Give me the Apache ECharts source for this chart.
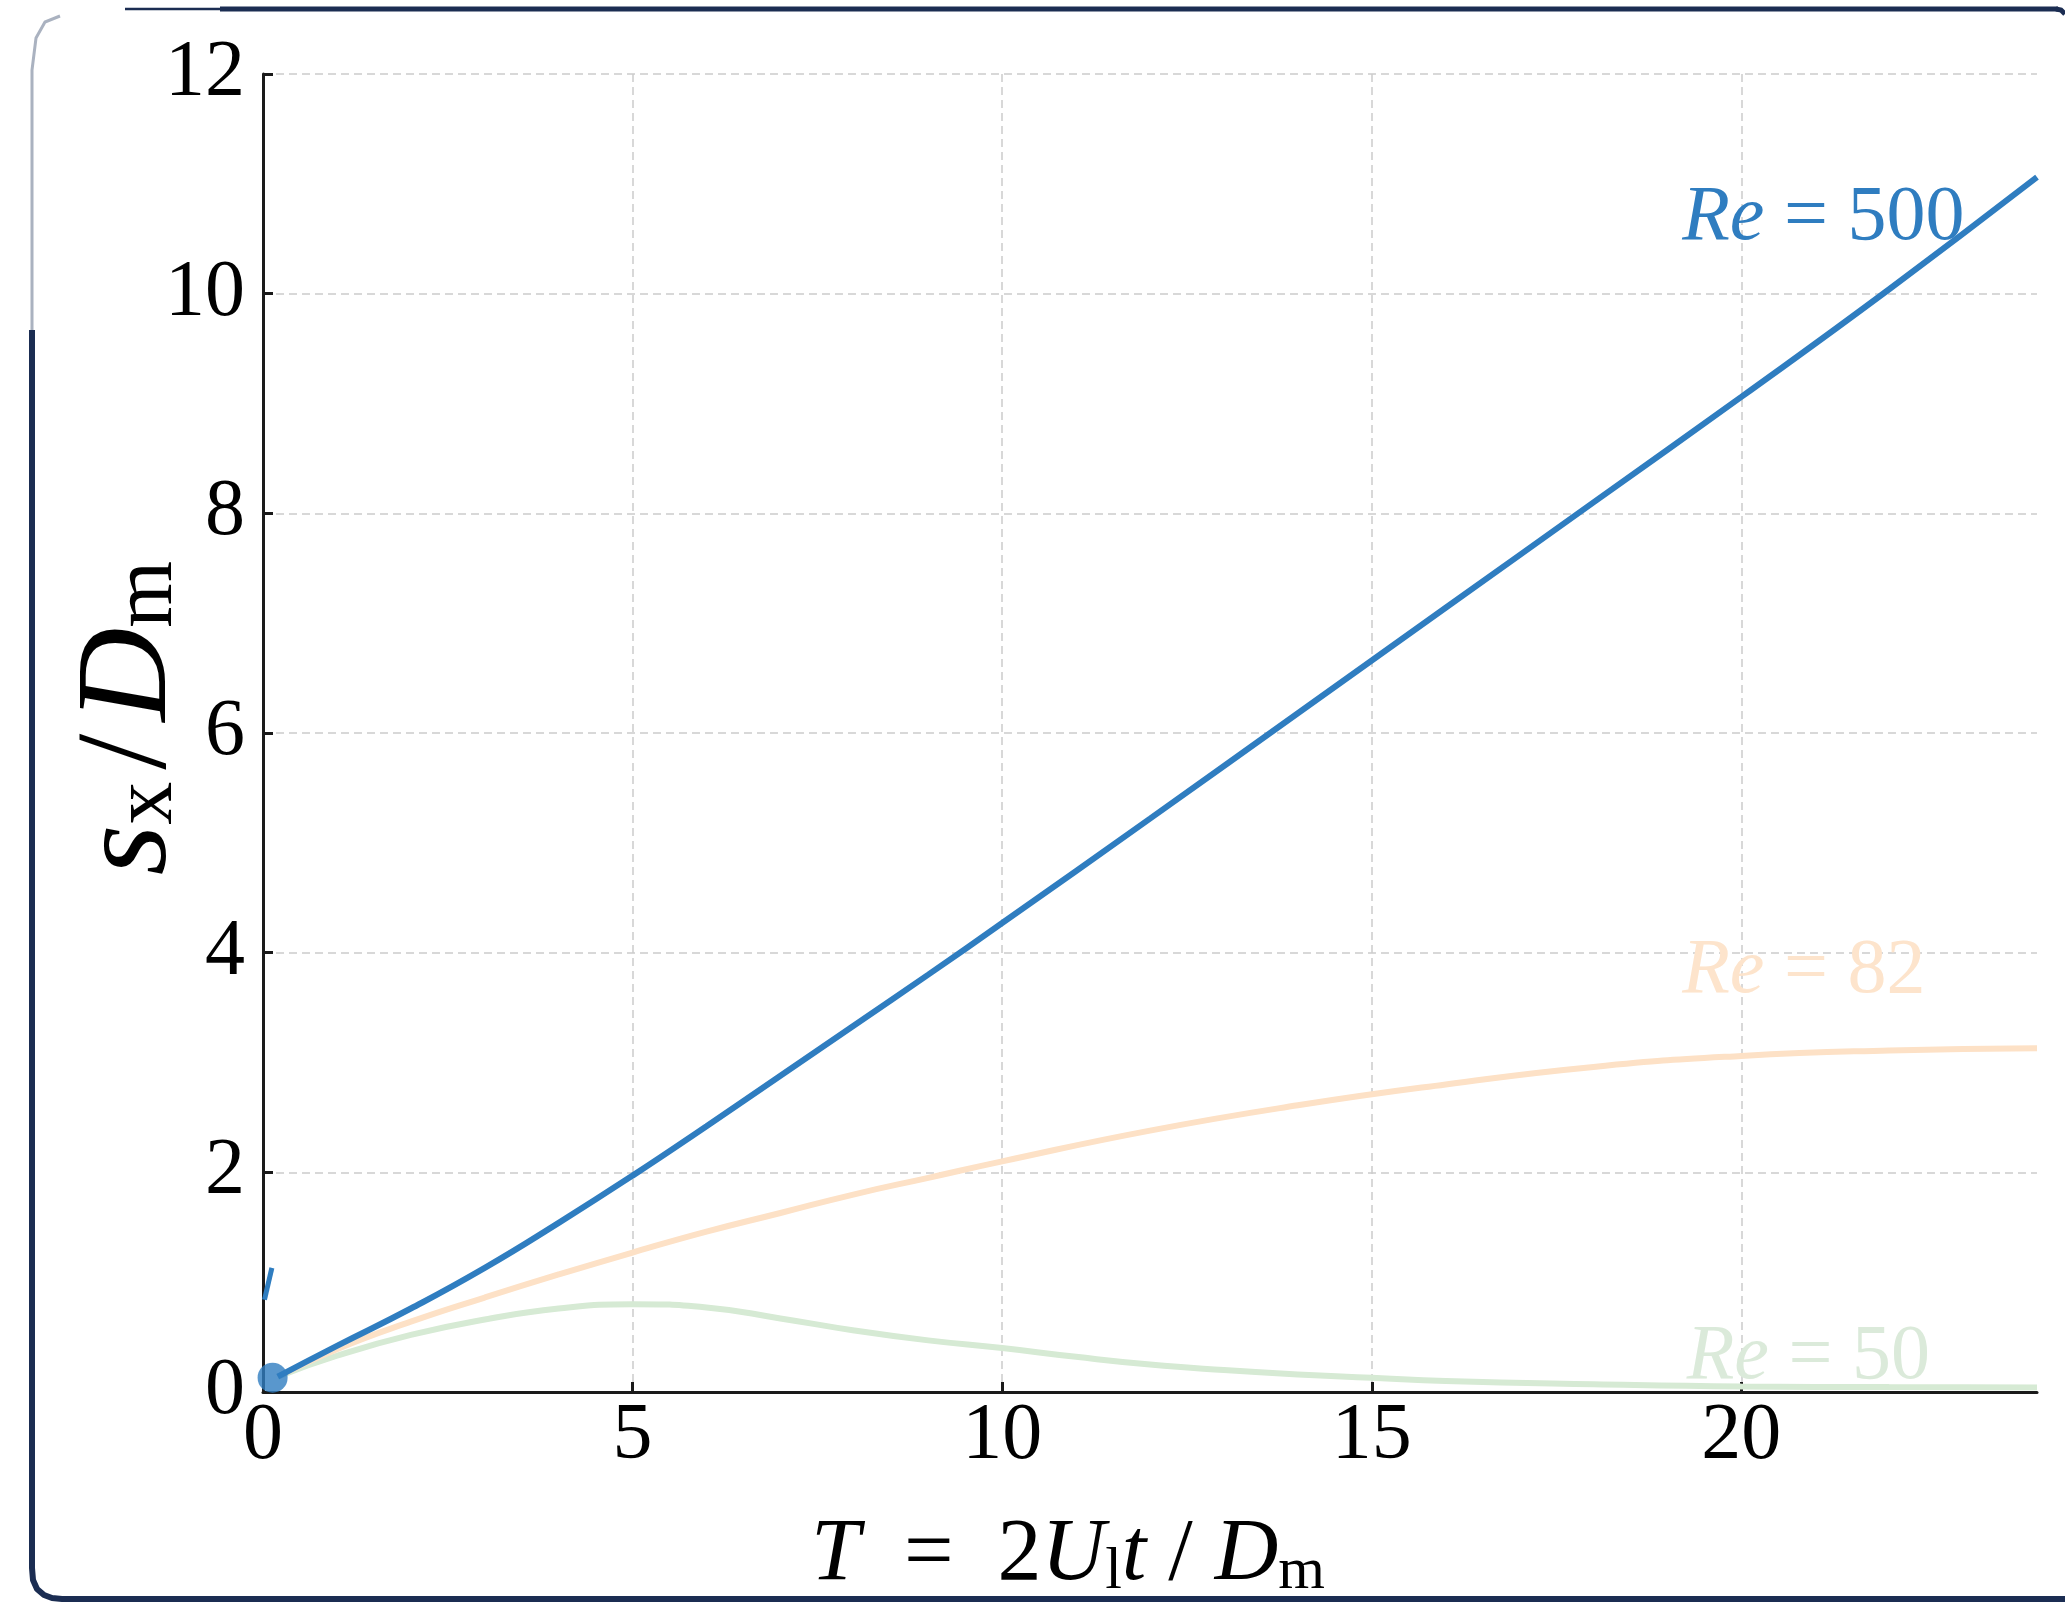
<!DOCTYPE html>
<html>
<head>
<meta charset="utf-8">
<script src="https://cdn.jsdelivr.net/npm/echarts@6/dist/echarts.min.js"></script>
<style>
  html, body { margin: 0; padding: 0; background: #ffffff; }
  #chart { width: 2065px; height: 1602px; }
</style>
</head>
<body>
<div id="chart"></div>
<script>
// ---- data ----
const tRe500 = [0.2, 1, 2, 3, 4, 5, 6, 7, 8, 9, 10, 12, 14, 16, 18, 20, 22, 24];
const sRe500 = [0.14, 0.42, 0.76, 1.13, 1.54, 1.97, 2.42, 2.88, 3.34, 3.8, 4.27, 5.22, 6.18, 7.14, 8.1, 9.06, 10.04, 11.06];

const tRe82 = [0.2, 1, 2, 3, 4, 5, 6, 7, 8, 9, 10, 12, 14, 16, 18, 20, 22, 24];
const sRe82 = [0.14, 0.39, 0.64, 0.86, 1.07, 1.27, 1.46, 1.63, 1.80, 1.95, 2.10, 2.38, 2.61, 2.80, 2.96, 3.06, 3.11, 3.13];

const tRe50 = [0.2, 1, 2, 3, 4, 5, 6, 7, 8, 9, 10, 11, 12, 13, 14, 15, 16, 18, 20, 22, 24];
const sRe50 = [0.14, 0.33, 0.52, 0.66, 0.76, 0.80, 0.77, 0.67, 0.56, 0.47, 0.40, 0.32, 0.25, 0.20, 0.16, 0.13, 0.10, 0.07, 0.05, 0.045, 0.04];

const startPoint = [[0.13, 0.13]];
const arrowStub = [[0.12, 1.13], [0.02, 0.84]];

const xTicks = [0, 5, 10, 15, 20];
const yTicks = [0, 2, 4, 6, 8, 10, 12];

const labelRe500 = { text: '500', at: [19.2, 10.68] };
const labelRe82 = { text: '82', at: [19.2, 3.83] };
const labelRe50 = { text: '50', at: [19.26, 0.31] };

// ---- styles ----
const FONT = '"Liberation Serif", "Times New Roman", serif';
const BLUE = '#2f7dc0';
const ORANGE = '#fde1c6';
const GREEN = '#d6ead4';
const ORANGE_TXT = '#fde4cc';
const GREEN_TXT = '#dbeada';
const NAVY = '#1b2d52';

function zip(a, b) { return a.map((v, i) => [v, b[i]]); }

function reLabel(def, color) {
  return {
    symbol: 'circle',
    symbolSize: 0,
    silent: true,
    data: [{ coord: def.at, value: def.text }],
    label: {
      show: true,
      position: 'right',
      distance: 0,
      formatter: '{i|Re}{n| = ' + def.text + '}',
      rich: {
        i: { fontFamily: FONT, fontStyle: 'italic', fontSize: 78, color: color },
        n: { fontFamily: FONT, fontSize: 78, color: color }
      }
    },
    itemStyle: { color: 'transparent' }
  };
}

const chart = echarts.init(document.getElementById('chart'), null, { renderer: 'canvas' });

const option = {
  animation: false,
  backgroundColor: '#ffffff',
  grid: { left: 263, right: 28, top: 74, bottom: 210, containLabel: false, outerBoundsMode: 'none' },
  xAxis: {
    type: 'value',
    min: 0,
    max: 24,
    interval: 5,
    name: '{it|T}{up|  =  2}{it|U}{sub|l}{it|t}{up| / }{it|D}{sub|m}',
    nameLocation: 'middle',
    nameGap: 120,
    nameMoveOverlap: false,
    nameTextStyle: {
      padding: [0, 164, 0, 0],
      rich: {
        it: { fontFamily: FONT, fontStyle: 'italic', fontSize: 88, lineHeight: 90, verticalAlign: 'top', color: '#000' },
        up: { fontFamily: FONT, fontSize: 88, lineHeight: 90, verticalAlign: 'top', color: '#000' },
        sub: { fontFamily: FONT, fontSize: 60, lineHeight: 44, verticalAlign: 'bottom', color: '#000' }
      }
    },
    axisLine: { show: true, onZero: false, lineStyle: { color: '#1a1a1a', width: 3 } },
    axisTick: { show: true, inside: true, length: 10, customValues: xTicks, lineStyle: { color: '#1a1a1a', width: 3 } },
    axisLabel: { show: true, customValues: xTicks, margin: 5, fontFamily: FONT, fontSize: 80, color: '#000' },
    splitLine: { show: true, lineStyle: { color: '#cccccc', width: 1.5, type: [8, 5] } }
  },
  yAxis: {
    type: 'value',
    min: 0,
    max: 12,
    interval: 2,
    name: '{it|s}{sub|x}{up|/}{it|D}{sub|m}',
    nameLocation: 'middle',
    nameRotate: 90,
    nameGap: 72,
    nameMoveOverlap: false,
    nameTextStyle: {
      padding: [0, 0, 0, 30],
      rich: {
        it: { fontFamily: FONT, fontStyle: 'italic', fontSize: 130, lineHeight: 125, verticalAlign: 'top', color: '#000' },
        up: { fontFamily: FONT, fontSize: 130, lineHeight: 125, verticalAlign: 'top', color: '#000', padding: [0, 12, 0, 12] },
        sub: { fontFamily: FONT, fontSize: 86, lineHeight: 62, verticalAlign: 'bottom', color: '#000' }
      }
    },
    axisLine: { show: true, onZero: false, lineStyle: { color: '#1a1a1a', width: 3 } },
    axisTick: { show: true, inside: true, length: 10, customValues: yTicks, lineStyle: { color: '#1a1a1a', width: 3 } },
    axisLabel: { show: true, customValues: yTicks, margin: 18, fontFamily: FONT, fontSize: 80, color: '#000' },
    splitLine: { show: true, lineStyle: { color: '#cccccc', width: 1.5, type: [8, 5] } }
  },
  series: [
    {
      name: 'Re = 50',
      type: 'line',
      data: zip(tRe50, sRe50),
      smooth: 0.5,
      showSymbol: false,
      symbol: 'none',
      lineStyle: { color: GREEN, width: 6 },
      z: 2,
      markPoint: reLabel(labelRe50, GREEN_TXT)
    },
    {
      name: 'Re = 82',
      type: 'line',
      data: zip(tRe82, sRe82),
      smooth: 0.5,
      showSymbol: false,
      symbol: 'none',
      lineStyle: { color: ORANGE, width: 6 },
      z: 3,
      markPoint: reLabel(labelRe82, ORANGE_TXT)
    },
    {
      name: 'Re = 500',
      type: 'line',
      data: zip(tRe500, sRe500),
      smooth: 0.5,
      showSymbol: false,
      symbol: 'none',
      lineStyle: { color: BLUE, width: 6 },
      z: 4,
      markPoint: reLabel(labelRe500, BLUE)
    },
    {
      name: 'stub',
      type: 'line',
      data: arrowStub,
      showSymbol: false,
      symbol: 'none',
      lineStyle: { color: BLUE, width: 5 },
      z: 4
    },
    {
      name: 'start',
      type: 'scatter',
      data: startPoint,
      symbolSize: 30,
      clip: true,
      itemStyle: { color: BLUE },
      z: 5
    }
  ],
  graphic: [
    {
      type: 'line',
      silent: true,
      shape: { x1: 125, y1: 9, x2: 220, y2: 9 },
      style: { stroke: NAVY, lineWidth: 2.5 }
    },
    {
      type: 'line',
      silent: true,
      shape: { x1: 220, y1: 9, x2: 2058, y2: 9 },
      style: { stroke: NAVY, lineWidth: 5 }
    },
    {
      type: 'polyline',
      silent: true,
      shape: { points: [[2056, 9], [2061, 10], [2065, 14]] },
      style: { stroke: NAVY, lineWidth: 5, fill: null }
    },
    {
      type: 'polyline',
      silent: true,
      shape: { points: [[60, 16], [45, 22], [36, 38], [32, 70], [32, 340]] },
      style: { stroke: '#aab2c0', lineWidth: 3, fill: null }
    },
    {
      type: 'polyline',
      silent: true,
      shape: {
        points: [[32, 330], [32, 1568], [33, 1580], [37, 1589], [44, 1595], [52, 1598], [62, 1599], [2065, 1599]]
      },
      style: { stroke: NAVY, lineWidth: 6, fill: null, lineJoin: 'round' }
    }
  ]
};

chart.setOption(option);
</script>
</body>
</html>
